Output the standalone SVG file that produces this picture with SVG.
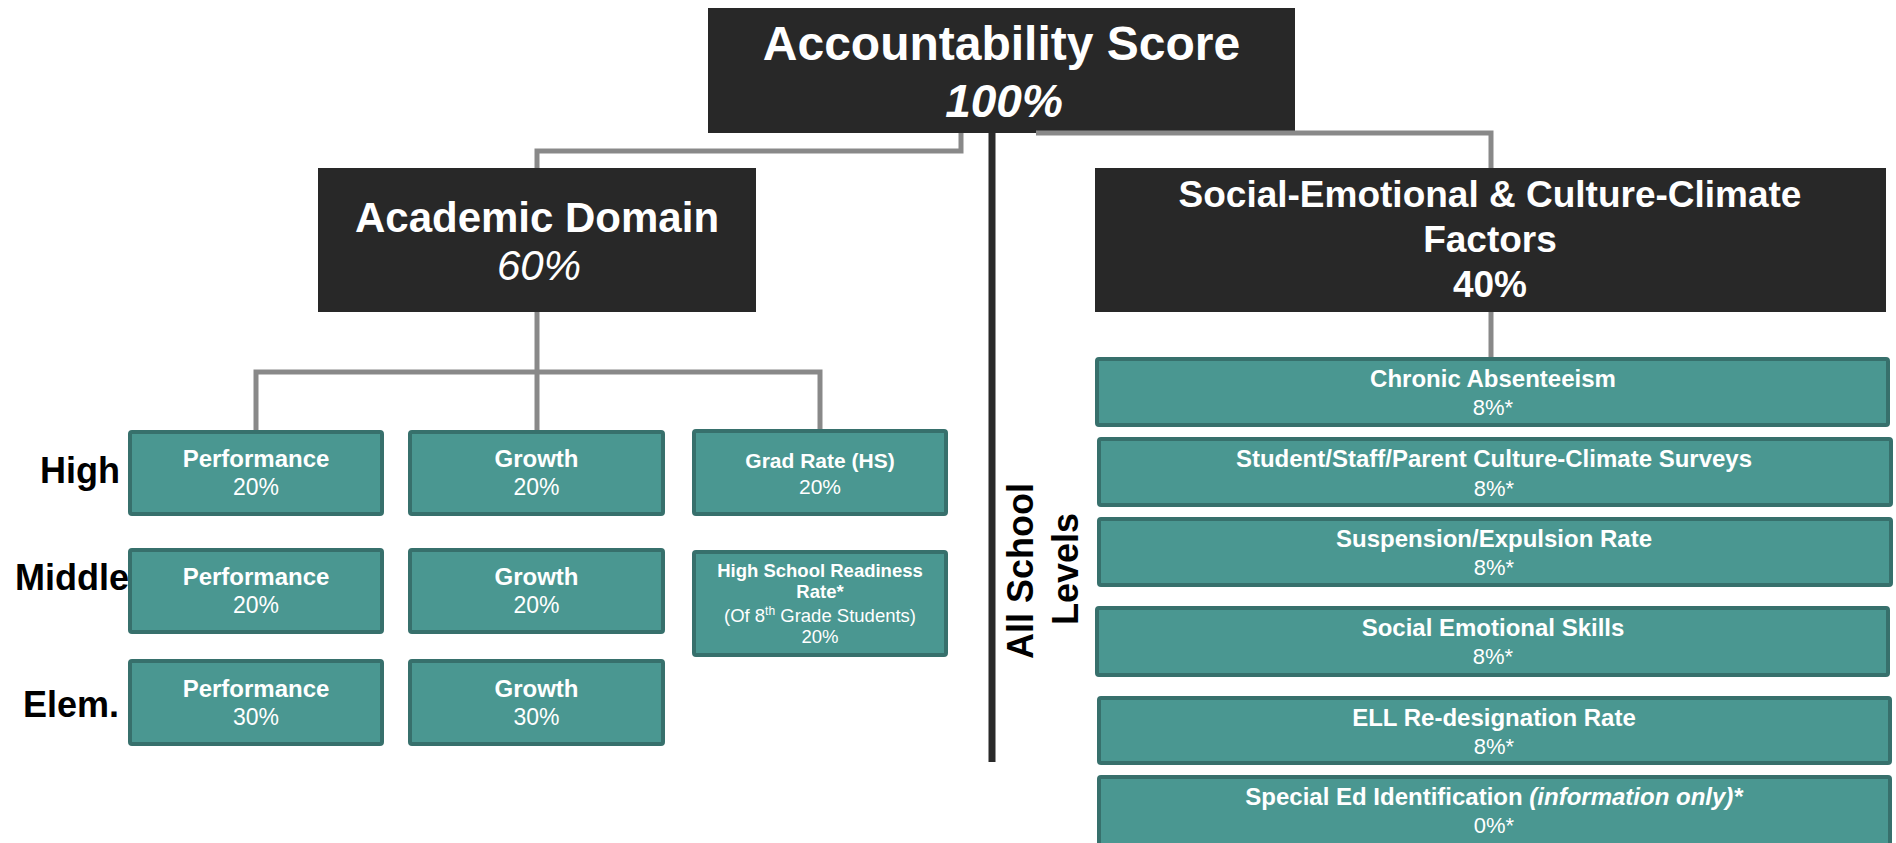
<svg xmlns="http://www.w3.org/2000/svg" width="1896" height="843" viewBox="0 0 1896 843">
<style>
text { font-family: "Liberation Sans", Arial, sans-serif; fill: #ffffff; text-anchor: middle; }
.dark { fill: #282828; }
.teal { fill: #4a9791; stroke: #37706c; stroke-width: 4; }
.conn { fill: none; stroke: #898989; stroke-width: 5; }
.axis { fill: none; stroke: #2a2a2a; stroke-width: 7; }
.b { font-weight: bold; }
.i { font-style: italic; }
.lbl { fill: #000000; font-weight: bold; font-size: 36px; text-anchor: end; }
.t24 { font-size: 24px; font-weight: bold; }
.v23 { font-size: 23px; }
.v22 { font-size: 22px; }
</style>
<rect width="1896" height="843" fill="#ffffff"/>

<g id="node-top">
  <rect class="dark" x="708" y="8" width="587" height="125"/>
  <text x="1001.5" y="60" class="b" font-size="48">Accountability Score</text>
  <text x="1004" y="117" class="b i" font-size="46">100%</text>
</g>

<g id="node-academic">
  <rect class="dark" x="318" y="168" width="438" height="144"/>
  <text x="537" y="232" class="b" font-size="42">Academic Domain</text>
  <text x="539" y="280" class="i" font-size="42">60%</text>
</g>

<g id="node-social">
  <rect class="dark" x="1095" y="168" width="791" height="144"/>
  <text x="1490" y="207" class="b" font-size="37">Social-Emotional &amp; Culture-Climate</text>
  <text x="1490" y="252" class="b" font-size="37">Factors</text>
  <text x="1490" y="297" class="b" font-size="37">40%</text>
</g>

<g id="connectors">
  <path class="conn" d="M961 133 V151 H537 V168"/>
  <path class="conn" d="M1036 133 H1491 V168"/>
  <path class="conn" d="M537 312 V430"/>
  <path class="conn" d="M256 430 V372 H820 V430"/>
  <path class="conn" d="M1491 312 V357"/>
  <path class="axis" d="M992 133 V762"/>
</g>

<g id="label-high"><text class="lbl" x="120" y="483">High</text></g>
<g id="label-middle"><text class="lbl" x="129" y="590">Middle</text></g>
<g id="label-elem"><text class="lbl" x="119" y="717">Elem.</text></g>

<g id="node-high-performance">
  <rect class="teal" x="130" y="432" width="252" height="82" rx="2"/>
  <text x="256" y="467" class="t24">Performance</text>
  <text x="256" y="495" class="v23">20%</text>
</g>
<g id="node-high-growth">
  <rect class="teal" x="410" y="432" width="253" height="82" rx="2"/>
  <text x="536.5" y="467" class="t24">Growth</text>
  <text x="536.5" y="495" class="v23">20%</text>
</g>
<g id="node-grad-rate">
  <rect class="teal" x="694" y="431" width="252" height="83" rx="2"/>
  <text x="820" y="468" class="b" font-size="21">Grad Rate (HS)</text>
  <text x="820" y="494" font-size="21">20%</text>
</g>

<g id="node-middle-performance">
  <rect class="teal" x="130" y="550" width="252" height="82" rx="2"/>
  <text x="256" y="585" class="t24">Performance</text>
  <text x="256" y="613" class="v23">20%</text>
</g>
<g id="node-middle-growth">
  <rect class="teal" x="410" y="550" width="253" height="82" rx="2"/>
  <text x="536.5" y="585" class="t24">Growth</text>
  <text x="536.5" y="613" class="v23">20%</text>
</g>
<g id="node-hs-readiness">
  <rect class="teal" x="694" y="552" width="252" height="103" rx="2"/>
  <text x="820" y="577" class="b" font-size="18.5">High School Readiness</text>
  <text x="820" y="598" class="b" font-size="18.5">Rate*</text>
  <text x="820" y="622" font-size="18.5">(Of 8<tspan font-size="12" dy="-7">th</tspan><tspan dy="7"> Grade Students)</tspan></text>
  <text x="820" y="643" font-size="18.5">20%</text>
</g>

<g id="node-elem-performance">
  <rect class="teal" x="130" y="661" width="252" height="83" rx="2"/>
  <text x="256" y="697" class="t24">Performance</text>
  <text x="256" y="725" class="v23">30%</text>
</g>
<g id="node-elem-growth">
  <rect class="teal" x="410" y="661" width="253" height="83" rx="2"/>
  <text x="536.5" y="697" class="t24">Growth</text>
  <text x="536.5" y="725" class="v23">30%</text>
</g>

<g id="label-all-school-levels">
  <text class="b" font-size="36" fill="#000000" style="fill:#000000" transform="translate(1033,571) rotate(-90)">All School</text>
  <text class="b" font-size="36" style="fill:#000000" transform="translate(1078,569) rotate(-90)">Levels</text>
</g>

<g id="node-chronic">
  <rect class="teal" x="1097" y="359" width="791" height="66" rx="2"/>
  <text x="1493" y="387" class="t24">Chronic Absenteeism</text>
  <text x="1493" y="415" class="v22">8%*</text>
</g>
<g id="node-surveys">
  <rect class="teal" x="1099" y="439" width="792" height="66" rx="2"/>
  <text x="1494" y="467" class="t24">Student/Staff/Parent Culture-Climate Surveys</text>
  <text x="1494" y="496" class="v22">8%*</text>
</g>
<g id="node-suspension">
  <rect class="teal" x="1099" y="519" width="792" height="66" rx="2"/>
  <text x="1494" y="547" class="t24">Suspension/Expulsion Rate</text>
  <text x="1494" y="575" class="v22">8%*</text>
</g>
<g id="node-ses">
  <rect class="teal" x="1097" y="608" width="791" height="67" rx="2"/>
  <text x="1493" y="636" class="t24">Social Emotional Skills</text>
  <text x="1493" y="664" class="v22">8%*</text>
</g>
<g id="node-ell">
  <rect class="teal" x="1099" y="698" width="791" height="65" rx="2"/>
  <text x="1494" y="726" class="t24">ELL Re-designation Rate</text>
  <text x="1494" y="754" class="v22">8%*</text>
</g>
<g id="node-special-ed">
  <rect class="teal" x="1099" y="777" width="791" height="72" rx="2"/>
  <text x="1494" y="805" class="t24">Special Ed Identification <tspan class="i">(information only)*</tspan></text>
  <text x="1494" y="833" class="v22">0%*</text>
</g>
</svg>
